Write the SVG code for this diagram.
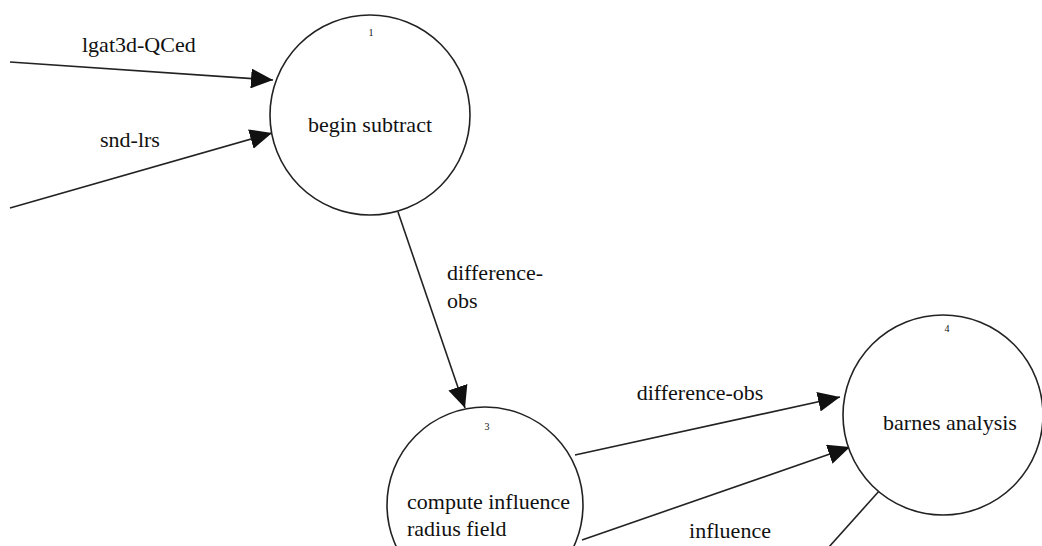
<svg xmlns="http://www.w3.org/2000/svg" width="1042" height="546" viewBox="0 0 1042 546">
<defs>
<marker id="ah" markerUnits="userSpaceOnUse" markerWidth="22" markerHeight="20" refX="22" refY="10" orient="auto">
<path d="M0,0 L22,10 L0,20 z" fill="#111"/>
</marker>
<style>
.node{fill:#fff;stroke:#222;stroke-width:1.6}
.lbl{font-size:22px;fill:#111}
.num{font-size:10px;fill:#111;text-anchor:middle}
.edge{stroke:#222;stroke-width:1.6;fill:none}
</style>
</defs>
<rect width="1042" height="546" fill="#fff"/>
<g font-family="Liberation Serif, serif">
<g id="connectors">
<line class="edge" x1="10" y1="62" x2="273" y2="80" marker-end="url(#ah)"/>
<line class="edge" x1="10" y1="208" x2="272" y2="133" marker-end="url(#ah)"/>
<line class="edge" x1="398" y1="212" x2="465" y2="408" marker-end="url(#ah)"/>
<line class="edge" x1="575" y1="455" x2="840" y2="397" marker-end="url(#ah)"/>
<line class="edge" x1="582" y1="540" x2="850" y2="447" marker-end="url(#ah)"/>
<line class="edge" x1="880" y1="490" x2="820" y2="557"/>
<text class="lbl" x="82" y="52">lgat3d-QCed</text>
<text class="lbl" x="100" y="147">snd-lrs</text>
<text class="lbl" x="447" y="280">difference-</text>
<text class="lbl" x="447" y="308">obs</text>
<text class="lbl" x="700" y="400" text-anchor="middle">difference-obs</text>
<text class="lbl" x="730" y="538" text-anchor="middle">influence</text>
</g>
<g id="node1">
<circle class="node" cx="370" cy="115" r="100"/>
<text class="num" x="371" y="36">1</text>
<text class="lbl" x="370" y="132" text-anchor="middle">begin subtract</text>
</g>
<g id="node3">
<circle class="node" cx="485" cy="505" r="98"/>
<text class="num" x="487" y="430">3</text>
<text class="lbl" x="407" y="509">compute influence</text>
<text class="lbl" x="407" y="536">radius field</text>
</g>
<g id="node4">
<circle class="node" cx="943" cy="415" r="100"/>
<text class="num" x="947" y="332">4</text>
<text class="lbl" x="950" y="430" text-anchor="middle">barnes analysis</text>
</g>
</g>
</svg>
